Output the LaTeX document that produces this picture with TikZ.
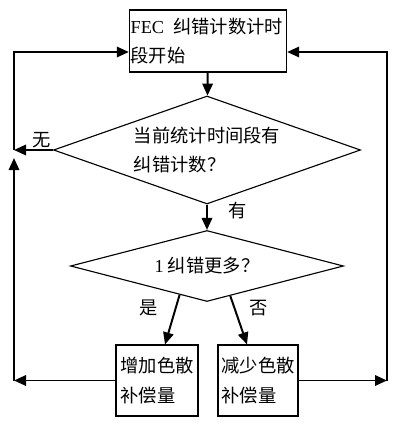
\documentclass[tikz,border=0pt]{standalone}
\usepackage{fontspec}
\setmainfont{Liberation Serif}
\newfontfamily\cjk{Noto Sans CJK SC}
\usetikzlibrary{arrows.meta,shapes.geometric,calc}
\begin{document}
\begin{tikzpicture}[x=0.25mm, y=-0.25mm, >={Triangle[length=3mm,width=2.6mm]}, font={\cjk\fontsize{13pt}{21pt}\selectfont}]
        \tikzset{box/.style={draw, line width=0.8pt, align=left, inner xsep=0.8mm},
                 decision/.style={draw, diamond, line width=0.8pt, align=left, inner sep=0pt},
                 flow/.style={->, line width=1.4pt}}
        \useasboundingbox (0,0) rectangle (400,427);
        \node[box, text width=38.7mm, minimum height=15.5mm, inner xsep=0.3mm] (s) at (208,41) {{\rmfamily FEC}\enspace 纠错计数计时\\段开始};
        \node[decision, aspect=2.84, minimum width=76.75mm, minimum height=27mm] (q1) at (207,150) {当前统计时间段有\\纠错计数？};
        \node[decision, aspect=3.8, minimum width=68.25mm, minimum height=17.75mm] (q2) at (207,266) {{\rmfamily 1} 纠错更多？};
        \node[box, minimum width=20.5mm, minimum height=17.75mm] (inc) at (157,380.5) {增加色散\\补偿量};
        \node[box, minimum width=20mm, minimum height=17.75mm] (dec) at (258,380.5) {减少色散\\补偿量};
        \coordinate (lt) at (14,52);
        \coordinate (lm) at (14,150);
        \coordinate (lu) at (14,158);
        \coordinate (lb) at (14,380.5);
        \coordinate (rt) at (387,52);
        \coordinate (rb) at (387,380.5);
        \draw[flow] (s) -- (q1);
        \draw[flow] (q1) -- node[right=4mm, pos=0.25] {有} (q2);
        \draw[flow] (q1.west) -- node[above, inner sep=1pt, pos=0.3] {无} (lm);
        \draw[flow] ($(q2.south)!0.2!(q2.west)$) -- node[left=3mm, pos=0.26] {是} ([xshift=2mm]inc.north);
        \draw[flow] ($(q2.south)!0.17!(q2.east)$) -- node[right=2.3mm, pos=0.26] {否} ([xshift=-2.75mm]dec.north);
        \draw[flow] (inc.west) -- (lb);
        \draw[flow] (lb) -- (lu);
        \draw[flow] (lm) -- (lt) -- (lt -| s.west);
        \draw[flow] (dec.east) -- (rb);
        \draw[flow] (rb) -- (rt) -- (rt -| s.east);
    \end{tikzpicture}
\end{document}
